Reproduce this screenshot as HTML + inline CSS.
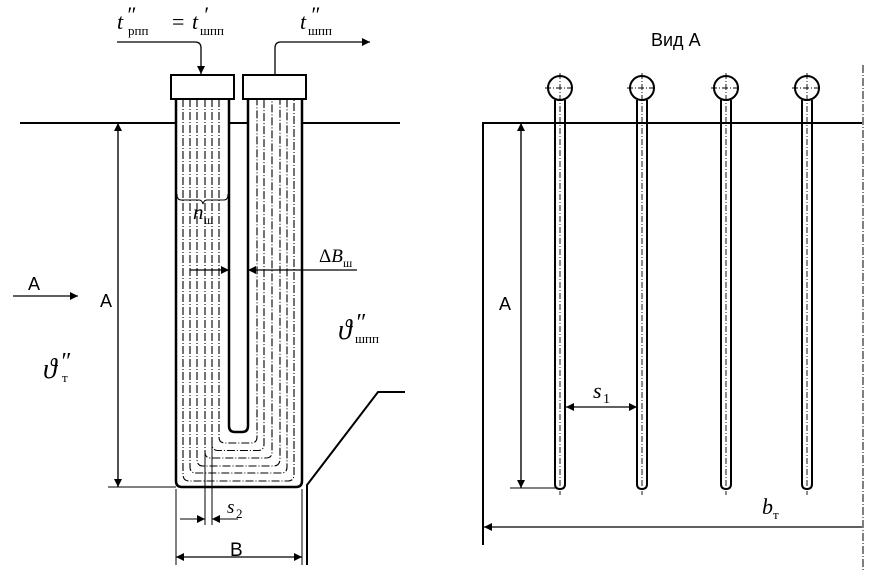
<!DOCTYPE html>
<html><head><meta charset="utf-8"><style>
html,body{margin:0;padding:0;background:#fff;}
svg{display:block;}
text{font-family:"Liberation Serif",serif;fill:#000;}
.s{font-family:"Liberation Sans",sans-serif;}
</style></head><body>
<svg width="875" height="571" viewBox="0 0 875 571" xmlns="http://www.w3.org/2000/svg">
<defs>
<marker id="ar" viewBox="0 0 10 10" refX="10" refY="5" markerWidth="11" markerHeight="8" orient="auto-start-reverse" markerUnits="userSpaceOnUse"><path d="M0,0 L10,5 L0,10 z" fill="#000"/></marker>
</defs>
<g fill="none" stroke="#000">
<path d="M20 123 H176 M229 123 H248 M302 123 H400" stroke-width="2"/>
<rect x="171" y="75" width="63" height="24" stroke-width="2"/>
<rect x="243" y="75" width="63" height="24" stroke-width="2"/>
<path d="M176 99 V481 Q176 487 182 487 H296 Q302 487 302 481 V99" stroke-width="2.5"/>
<path d="M229 99 V426 Q229 432 235 432 H242 Q248 432 248 426 V99" stroke-width="2.5"/>
<g stroke-width="1.1" stroke-dasharray="8 2 1 2">
<path d="M219 99 V437 Q219 443 225 443 H251 Q257 443 257 437 V99"/>
<path d="M212 99 V444 Q212 450.5 218 450.5 H258 Q264 450.5 264 444 V99"/>
<path d="M205 99 V452 Q205 458 211 458 H266 Q272 458 272 452 V99"/>
<path d="M197 99 V459 Q197 466 203 466 H273 Q280 466 280 459 V99"/>
<path d="M190 99 V467 Q190 473 196 473 H281 Q287 473 287 467 V99"/>
<path d="M183 99 V474 Q183 481 189 481 H288 Q294 481 294 474 V99"/>
</g>
<path d="M117 42 H195 Q201 42 201 48 V74" stroke-width="1.3" marker-end="url(#ar)"/>
<path d="M275 75 V48 Q275 42 281 42 H370" stroke-width="1.3" marker-end="url(#ar)"/>
<path d="M177 194 Q177 200 181 200 H199 Q202 200 203 204 Q204 200 207 200 H224 Q228 200 228 194" stroke-width="1"/>
<path d="M190 270 H229" stroke-width="1.2" marker-end="url(#ar)"/>
<path d="M357 270 H248" stroke-width="1.2" marker-end="url(#ar)"/>
<path d="M118 487 V123" stroke-width="1.2" marker-end="url(#ar)"/>
<path d="M118 123 V487" stroke-width="1.2" marker-end="url(#ar)"/>
<path d="M108 487 H176" stroke-width="1"/>
<path d="M13 296 H78" stroke-width="1.2" marker-end="url(#ar)"/>
<path d="M205 450 V525 M212 443 V525" stroke-width="1"/>
<path d="M180 519 H205" stroke-width="1" marker-end="url(#ar)"/>
<path d="M238 519 H212" stroke-width="1" marker-end="url(#ar)"/>
<path d="M176 489 V565 M302 489 V565" stroke-width="1"/>
<path d="M176 557 H302" stroke-width="1.2" marker-start="url(#ar)" marker-end="url(#ar)"/>
<path d="M307 565 V485 L378 392 H405" stroke-width="2"/>

<path d="M483 545 V123 H862" stroke-width="2"/>
<path d="M863 65 V571" stroke-width="1" stroke-dasharray="8 2 1 2"/>
<g stroke-width="2">
<circle cx="560" cy="88" r="12"/><circle cx="642" cy="88" r="12"/><circle cx="726" cy="88" r="12"/><circle cx="807" cy="88" r="12"/>
<path d="M555 100 V484 Q555 489 560 489 Q565 489 565 484 V100"/>
<path d="M637 100 V484 Q637 489 642 489 Q647 489 647 484 V100"/>
<path d="M721 100 V484 Q721 489 726 489 Q731 489 731 484 V100"/>
<path d="M802 100 V484 Q802 489 807 489 Q812 489 812 484 V100"/>
</g>
<g stroke-width="0.9" stroke-dasharray="6 2 1 2">
<path d="M545 88 H575 M560 73 V495"/>
<path d="M627 88 H657 M642 73 V495"/>
<path d="M711 88 H741 M726 73 V495"/>
<path d="M792 88 H822 M807 73 V495"/>
</g>
<path d="M521 488 V123" stroke-width="1.2" marker-end="url(#ar)"/>
<path d="M521 123 V488" stroke-width="1.2" marker-end="url(#ar)"/>
<path d="M510 488 H557" stroke-width="1"/>
<path d="M566 407 H637" stroke-width="1.2" marker-start="url(#ar)" marker-end="url(#ar)"/>
<path d="M862 527 H484" stroke-width="1.2" marker-end="url(#ar)"/>
</g>
<text x="117" y="29" font-size="22" font-style="italic">t</text>
<text x="126" y="22" font-size="22" font-style="italic">″</text>
<text x="128" y="35" font-size="13">рпп</text>
<text x="172" y="29" font-size="22">=</text>
<text x="192" y="29" font-size="22" font-style="italic">t</text>
<text x="203" y="22" font-size="22" font-style="italic">′</text>
<text x="200" y="35" font-size="13">шпп</text>
<text x="300" y="29" font-size="22" font-style="italic">t</text>
<text x="310" y="22" font-size="22" font-style="italic">″</text>
<text x="308" y="35" font-size="13">шпп</text>
<text x="193" y="219" font-size="21" font-style="italic">n</text>
<text x="204" y="224" font-size="12">ш</text>
<text x="319" y="262" font-size="19">Δ<tspan font-style="italic">B</tspan></text>
<text x="343" y="267" font-size="12">ш</text>
<text x="338" y="339" font-size="28" font-style="italic">ϑ</text>
<text x="355" y="330" font-size="24" font-style="italic">″</text>
<text x="355" y="343" font-size="13">шпп</text>
<text x="43" y="378" font-size="28" font-style="italic">ϑ</text>
<text x="60" y="369" font-size="24" font-style="italic">″</text>
<text x="62" y="382" font-size="13">т</text>
<text x="28" y="290" font-size="18" class="s">A</text>
<text x="100" y="307" font-size="18" class="s">A</text>
<text x="227" y="513" font-size="19" font-style="italic">s</text>
<text x="236" y="518" font-size="13">2</text>
<text x="230" y="556" font-size="19" class="s">B</text>
<text x="651" y="46" font-size="18" class="s">Вид A</text>
<text x="499" y="310" font-size="18" class="s">A</text>
<text x="593" y="398" font-size="22" font-style="italic">s</text>
<text x="603" y="403" font-size="14">1</text>
<text x="762" y="514" font-size="22" font-style="italic">b</text>
<text x="773" y="519" font-size="13">т</text>
</svg>
</body></html>
